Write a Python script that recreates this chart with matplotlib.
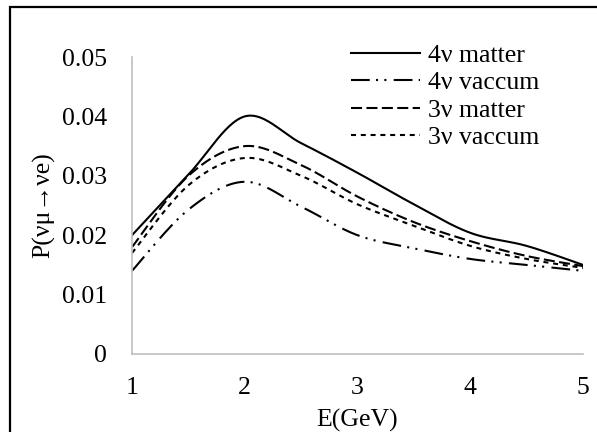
import numpy as np
import matplotlib
matplotlib.use("Agg")
import matplotlib.pyplot as plt
from matplotlib.patches import Rectangle

plt.rcParams['font.family'] = ['Liberation Serif', 'DejaVu Serif']

E = [1, 1.5, 2, 2.5, 3, 3.5, 4, 4.5, 5]
p4_matter = [0.020, 0.0302, 0.040, 0.0355, 0.0305, 0.0252, 0.0204, 0.0182, 0.0150]
p4_vaccum = [0.014, 0.0243, 0.029, 0.0248, 0.0200, 0.0178, 0.0160, 0.0150, 0.0140]
p3_matter = [0.018, 0.0300, 0.035, 0.0318, 0.0265, 0.0222, 0.0190, 0.0165, 0.0148]
p3_vaccum = [0.017, 0.0284, 0.033, 0.0300, 0.0252, 0.0216, 0.0182, 0.0160, 0.0145]
labels = ['4\u03bd matter', '4\u03bd vaccum', '3\u03bd matter', '3\u03bd vaccum']


def smooth(xs, ys, n=30):
    # excel-like smoothed line (bezier through points)
    xs = np.asarray(xs, float)
    ys = np.asarray(ys, float)
    px = np.concatenate([[xs[0]], xs, [xs[-1]]])
    py = np.concatenate([[ys[0]], ys, [ys[-1]]])
    outx, outy = [], []
    t = np.linspace(0, 1, n)
    for i in range(1, len(px) - 2):
        p0 = np.array([px[i], py[i]])
        p3 = np.array([px[i + 1], py[i + 1]])
        c1 = p0 + (np.array([px[i + 1], py[i + 1]]) - np.array([px[i - 1], py[i - 1]])) / 6
        c2 = p3 - (np.array([px[i + 2], py[i + 2]]) - np.array([px[i], py[i]])) / 6
        b = ((1 - t) ** 3)[:, None] * p0 + (3 * (1 - t) ** 2 * t)[:, None] * c1 \
            + (3 * (1 - t) * t ** 2)[:, None] * c2 + (t ** 3)[:, None] * p3
        outx.extend(b[:, 0])
        outy.extend(b[:, 1])
    return outx, outy


fig = plt.figure(figsize=(5.97, 4.32), dpi=100)
ax = fig.add_axes([132 / 597, 1 - 354 / 432, (583 - 132) / 597, (354 - 57) / 432])

lw = 1.5
styles = ['-', (0, (9, 3, 1, 3, 1, 3.5)), (0, (5.3, 2.1)), (0, (2.4, 2.3))]
for ys, ls, lab in zip([p4_matter, p4_vaccum, p3_matter, p3_vaccum], styles, labels):
    sx, sy = smooth(E, ys)
    ax.plot(sx, sy, color='black', lw=lw, linestyle=ls, label=lab)

ax.set_xlim(1, 5)
ax.set_ylim(0, 0.05)
ax.set_xticks([1, 2, 3, 4, 5])
ax.set_yticks([0, 0.01, 0.02, 0.03, 0.04, 0.05])
ax.set_yticklabels(['0', '0.01', '0.02', '0.03', '0.04', '0.05'])
ax.tick_params(length=0, labelsize=18.5, pad=18)
ax.tick_params(axis='x', pad=16.5)
for s in ['top', 'right']:
    ax.spines[s].set_visible(False)
for s in ['left', 'bottom']:
    ax.spines[s].set_color('#bfbfbf')
    ax.spines[s].set_linewidth(1.2)

ax.set_xlabel('E(GeV)', fontsize=18.5, labelpad=7)
ax.set_ylabel('P(\u03bd\u03bc\u2192\u03bde)', fontsize=18.5, labelpad=5)

ax.legend(loc='upper left', bbox_to_anchor=(351 / 597, 1 - 44 / 432),
          bbox_transform=fig.transFigure, frameon=False, fontsize=18.5,
          handlelength=2.7, handletextpad=0.3, labelspacing=0.17,
          borderpad=0, borderaxespad=0)

fig.patches.append(Rectangle((10 / 597, -0.2), 1.2, 1.2 - 7 / 432,
                             transform=fig.transFigure, fill=False,
                             edgecolor='black', lw=1.6, clip_on=False))

fig.savefig('out.png', dpi=100)
